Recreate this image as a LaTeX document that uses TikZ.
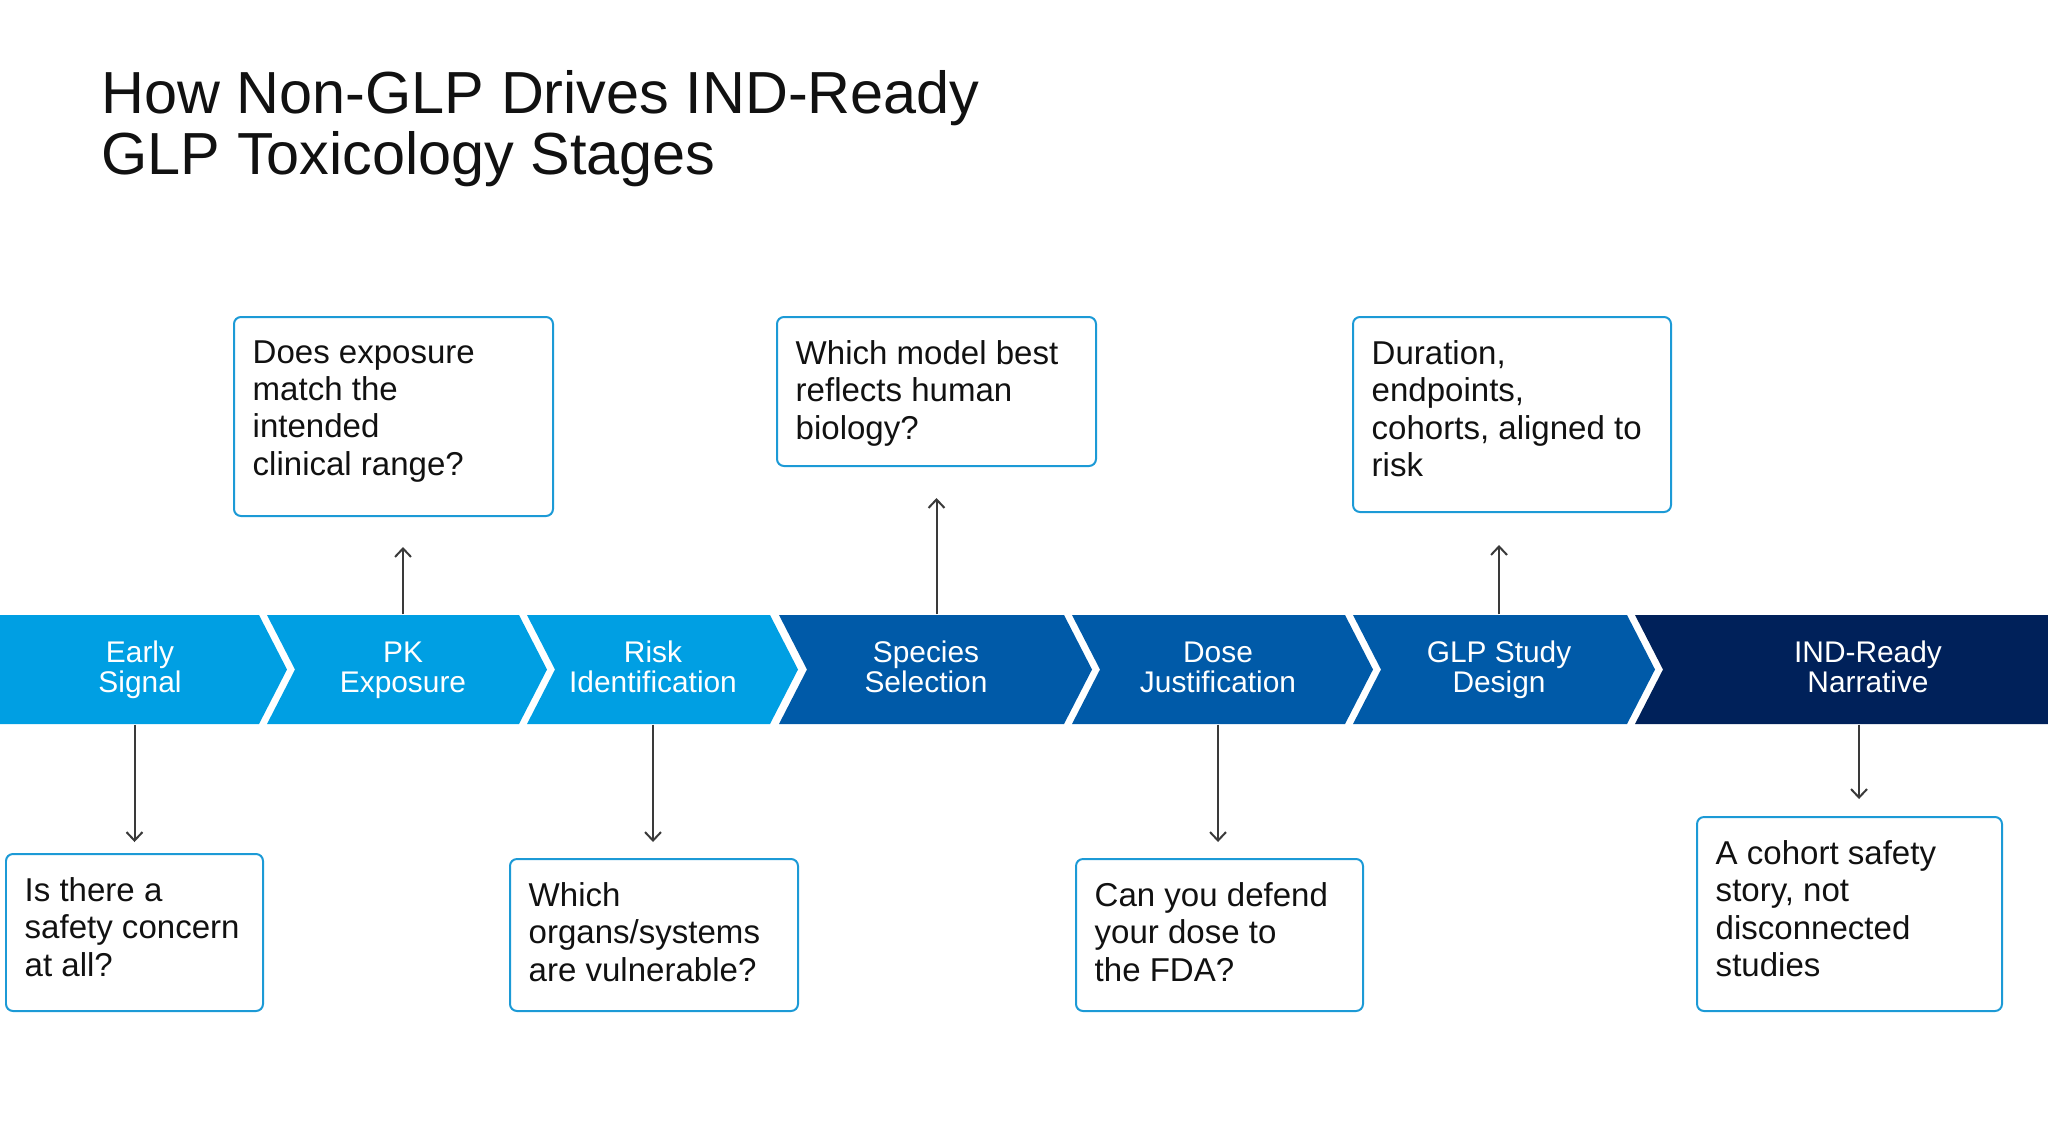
\documentclass[tikz,border=0pt]{standalone}
\usepackage{fontspec}
\setmainfont{Liberation Sans}
\usetikzlibrary{arrows.meta}
\definecolor{ToxLight}{HTML}{009FE3}
\definecolor{ToxMid}{HTML}{005AA8}
\definecolor{ToxNavy}{HTML}{00215A}
\definecolor{ToxBorder}{HTML}{1C9AD6}
\definecolor{ToxArrow}{HTML}{3A3A3A}
\definecolor{ToxInk}{HTML}{111111}
\newcommand{\stagestrut}{\rule[-1.9pt]{0pt}{8.4pt}}

\begin{document}
\begin{tikzpicture}[x=0.1mm,y=-0.1mm,
    stage/.style={text=white,align=center,minimum height=10.9mm,inner sep=0pt,font=\fontsize{8.5pt}{8.4pt}\selectfont},
    qbox/.style={draw=ToxBorder,line width=0.2mm,rounded corners=0.7mm,anchor=north west,inner sep=0pt},
    qtext/.style={anchor=north west,inner sep=0pt,align=left,text=ToxInk,font=\fontsize{9.4pt}{10.6pt}\selectfont},
    flow/.style={draw=ToxArrow,line width=0.2mm,-{Straight Barb[length=0.85mm,width=1.6mm]}}]
    \useasboundingbox (0,0) rectangle (2048,1133);
    \node[anchor=north west,inner sep=0pt,align=left,text=ToxInk,font=\fontsize{16.9pt}{17.3pt}\selectfont] (title) at (101,70) {How Non-GLP Drives IND-Ready\\GLP Toxicology Stages};

    \fill[ToxLight] (0,615) -- (259,615) -- (287,669.5) -- (259,724) -- (0,724) -- cycle;
    \foreach \l/\r/\c in {267/519/ToxLight,527/770/ToxLight,779/1064/ToxMid,1072/1345/ToxMid,1353/1627/ToxMid} {
      \fill[\c] (\l,615) -- (\r,615) -- ({\r+28},669.5) -- (\r,724) -- (\l,724) -- ({\l+28},669.5) -- cycle;
    }
    \fill[ToxNavy] (1635,615) -- (2048,615) -- (2048,724) -- (1635,724) -- (1663,669.5) -- cycle;

    \node[stage] (s1) at (140,669.5) {\stagestrut Early\\\stagestrut Signal};
    \node[stage] (s2) at (403,669.5) {\stagestrut PK\\\stagestrut Exposure};
    \node[stage] (s3) at (653,669.5) {\stagestrut Risk\\\stagestrut Identification};
    \node[stage] (s4) at (926,669.5) {\stagestrut Species\\\stagestrut Selection};
    \node[stage] (s5) at (1218,669.5) {\stagestrut Dose\\\stagestrut Justification};
    \node[stage] (s6) at (1499,669.5) {\stagestrut GLP Study\\\stagestrut Design};
    \node[stage] (s7) at (1868,669.5) {\stagestrut IND-Ready\\\stagestrut Narrative};

    \node[qbox,minimum width=25.7mm,minimum height=15.7mm] (q1) at (5,853) {};
    \node[qbox,minimum width=31.9mm,minimum height=19.9mm] (q2) at (233,316) {};
    \node[qbox,minimum width=28.8mm,minimum height=15.2mm] (q3) at (509,858) {};
    \node[qbox,minimum width=31.9mm,minimum height=14.9mm] (q4) at (776,316) {};
    \node[qbox,minimum width=28.7mm,minimum height=15.2mm] (q5) at (1075,858) {};
    \node[qbox,minimum width=31.8mm,minimum height=19.5mm] (q6) at (1352,316) {};
    \node[qbox,minimum width=30.5mm,minimum height=19.4mm] (q7) at (1696,816) {};

    \node[qtext] (t1) at ([shift={(19,24)}]q1.north west) {Is there a\\safety concern\\at all?};
    \node[qtext] (t2) at ([shift={(19,24)}]q2.north west) {Does exposure\\match the\\intended\\clinical range?};
    \node[qtext] (t3) at ([shift={(19,24)}]q3.north west) {Which\\organs/systems\\are vulnerable?};
    \node[qtext] (t4) at ([shift={(19,24)}]q4.north west) {Which model best\\reflects human\\biology?};
    \node[qtext] (t5) at ([shift={(19,24)}]q5.north west) {Can you defend\\your dose to\\the FDA?};
    \node[qtext] (t6) at ([shift={(19,24)}]q6.north west) {Duration,\\endpoints,\\cohorts, aligned to\\risk};
    \node[qtext] (t7) at ([shift={(19,24)}]q7.north west) {A cohort safety\\story, not\\disconnected\\studies};

    \draw[flow,shorten >=1.1mm] (q1.north |- s1.south) -- (q1.north);
    \draw[flow,shorten >=3mm] (s2.north) -- (s2.north |- q2.south);
    \draw[flow,shorten >=1.6mm] (s3.south) -- (s3.south |- q3.north);
    \draw[flow,shorten >=3.1mm] (q4.south |- s4.north) -- (q4.south);
    \draw[flow,shorten >=1.6mm] (s5.south) -- (s5.south |- q5.north);
    \draw[flow,shorten >=3.2mm] (s6.north) -- (s6.north |- q6.south);
    \draw[flow,shorten >=1.7mm] ([xshift=-0.9mm]s7.south) -- ([xshift=-0.9mm]s7.south |- q7.north);
\end{tikzpicture}
\end{document}
